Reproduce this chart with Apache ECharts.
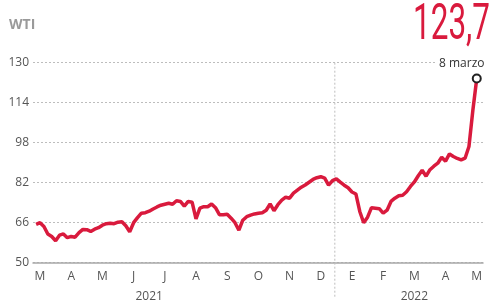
<!DOCTYPE html>
<html><head><meta charset="utf-8">
<script src="https://cdn.jsdelivr.net/npm/echarts@6/dist/echarts.min.js"></script>
<style>html,body{margin:0;padding:0;background:#fff}#c{width:491px;height:304px}</style>
</head><body><div id="c"></div>
<script>
// ---- data ----
const monthLabels = ['M','A','M','J','J','A','S','O','N','D','E','F','M','A','M'];
const yearLabels = ['2021', '2022'];
const seriesName = 'WTI';
const headline = '123,7';
const lastLabel = '8 marzo';
const yMin = 50, yMax = 130, yStep = 16;
const wtiValues = [
  65.3, 66.0, 64.5, 61.5, 60.5, 58.8, 61.0, 61.5, 60.0, 60.5,
  60.2, 62.0, 63.3, 63.2, 62.5, 63.4, 64.0, 65.0, 65.6, 65.8,
  65.6, 66.2, 66.4, 64.8, 62.4, 66.0, 68.0, 69.8, 70.0, 70.6,
  71.5, 72.3, 73.0, 73.4, 73.8, 73.4, 74.8, 74.5, 72.6, 74.5,
  74.2, 67.5, 71.8, 72.4, 72.4, 73.5, 72.0, 69.2, 69.2, 69.4,
  67.8, 66.0, 63.0, 67.0, 68.4, 69.0, 69.5, 69.8, 70.0, 71.0,
  73.5, 70.8, 73.2, 75.0, 76.2, 75.8, 77.8, 79.0, 80.2, 81.1,
  82.2, 83.3, 84.0, 84.4, 83.8, 81.0, 82.8, 83.5, 82.2, 81.0,
  80.0, 78.3, 77.5, 70.5, 66.0, 68.2, 72.0, 71.8, 71.6, 69.8,
  71.0, 74.5, 75.8, 76.8, 77.0, 78.4, 80.5, 82.3, 84.8, 87.0,
  84.6, 87.2, 88.6, 89.8, 92.2, 90.6, 93.5, 92.5, 91.7, 91.1,
  91.8, 96.5, 111.0, 123.7
];

// ---- layout helpers (not data) ----
const perMonth = 8, labelStart = 1;
const labelIdx = monthLabels.map((m, k) => labelStart + perMonth * k);
const yearAnchor = [29, 97];
const dividerIdx = 76.6;
const RED = '#d91a3d';
const FONT = "'Open Sans', Roboto, sans-serif";

const seriesData = wtiValues.map((v, i) => {
  if (i === wtiValues.length - 1) {
    return {
      value: [i, v],
      symbol: 'circle', symbolSize: 8,
      itemStyle: { color: '#fff', borderColor: '#222', borderWidth: 2 },
      label: {
        show: true, position: 'top', distance: 4, offset: [-15, 0],
        formatter: lastLabel, color: '#333', fontSize: 12, fontFamily: FONT,
        backgroundColor: '#fff', padding: [0, 2]
      }
    };
  }
  return [i, v];
});

const chart = echarts.init(document.getElementById('c'));
chart.setOption({
  animation: false,
  backgroundColor: '#fff',
  grid: { left: 33, right: 8, top: 62.7, bottom: 41.3, containLabel: false, outerBoundsMode: 'none' },
  xAxis: {
    type: 'value', min: -0.8, max: 114.6,
    axisLine: { show: true, onZero: false, lineStyle: { color: '#a8a8a8', width: 1.5 } },
    axisTick: { show: false },
    splitLine: { show: false },
    axisLabel: {
      customValues: labelIdx,
      formatter: v => monthLabels[Math.round((v - labelStart) / perMonth)] || '',
      color: '#555', fontSize: 12, fontFamily: FONT, margin: 8
    }
  },
  yAxis: {
    type: 'value', min: yMin, max: yMax, interval: yStep,
    axisLine: { show: false }, axisTick: { show: false },
    splitLine: { lineStyle: { color: '#bdbdbd', type: [2, 2], width: 1 } },
    axisLabel: { color: '#555', fontSize: 12, fontFamily: FONT, margin: 4 }
  },
  series: [{
    name: seriesName, type: 'line', data: seriesData,
    symbol: 'none', showSymbol: true,
    lineStyle: { color: RED, width: 3.5 },
    itemStyle: { color: RED },
    z: 3
  }]
});

const px = (x, y) => chart.convertToPixel({ gridIndex: 0 }, [x, y]);
const dTop = px(dividerIdx, yMax), dBot = px(dividerIdx, yMin);
const graphics = [
  { type: 'line', z: 1, shape: { x1: dTop[0], y1: dTop[1], x2: dBot[0], y2: dBot[1] + 36 },
    style: { stroke: '#bdbdbd', lineDash: [2, 2], lineWidth: 1 } },
  { type: 'text', x: 9, y: 25, style: { text: seriesName, fill: '#9a9a9a', font: "bold 14px " + FONT, textVerticalAlign: 'middle' } },
  { type: 'text', x: 490, y: 26, scaleX: 0.63,
    style: { text: headline, fill: RED, font: "50px Roboto, sans-serif", textAlign: 'right', textVerticalAlign: 'middle' } }
];
yearLabels.forEach((t, k) => {
  const p = px(yearAnchor[k], yMin);
  graphics.push({ type: 'text', x: p[0], y: p[1] + 34,
    style: { text: t, fill: '#555', font: "12px " + FONT, textAlign: 'center', textVerticalAlign: 'middle' } });
});
chart.setOption({ graphic: graphics });
</script>
</body></html>
